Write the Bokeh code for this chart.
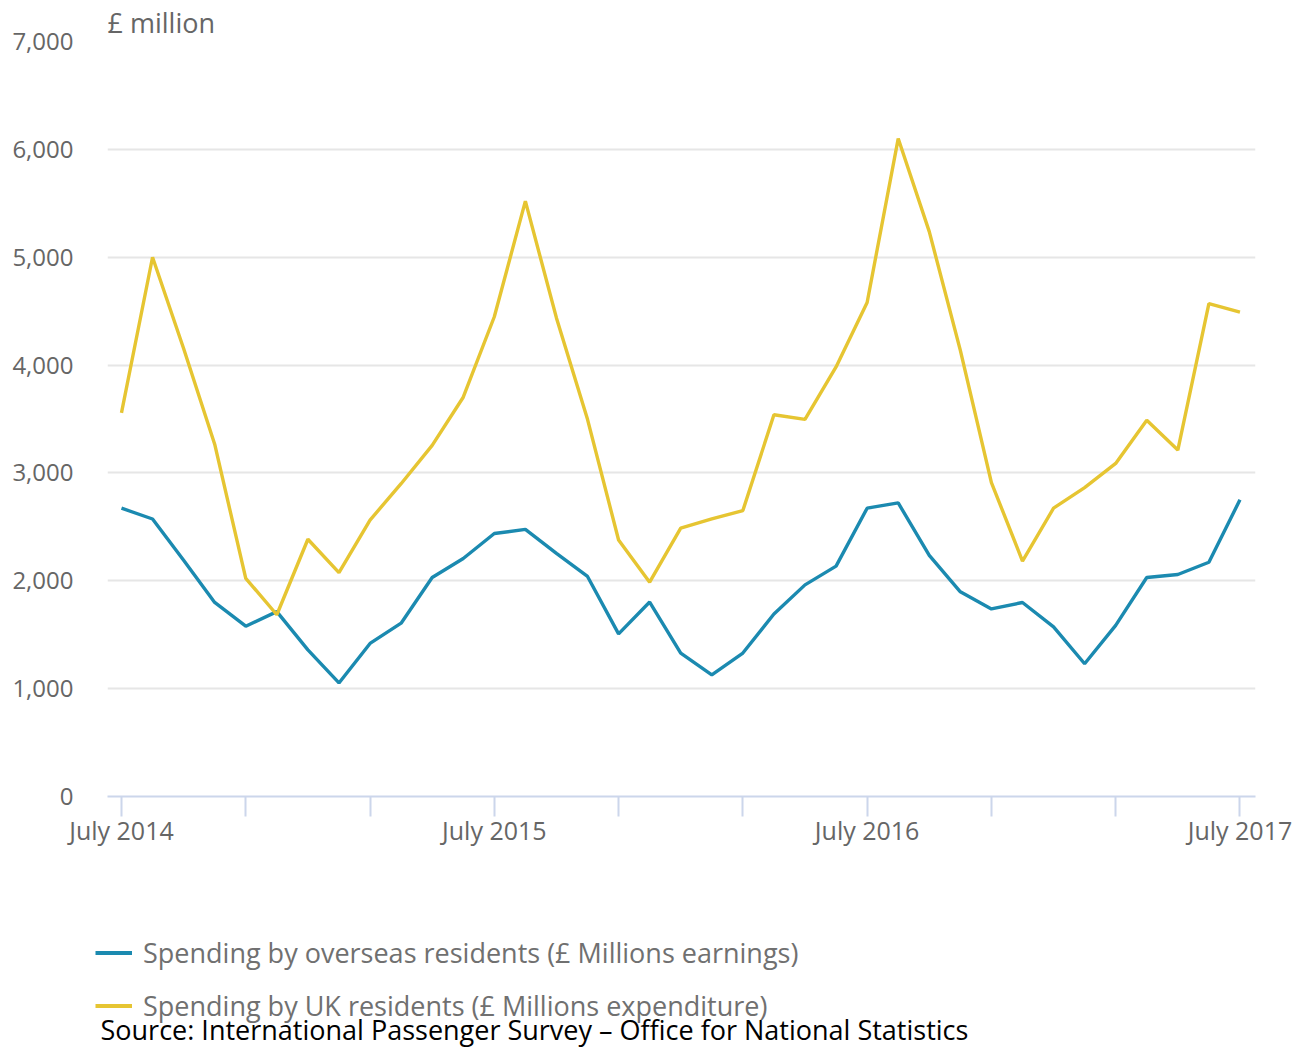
from bokeh.plotting import figure
from bokeh.layouts import column
from bokeh.models import (Range1d, FixedTicker, NumeralTickFormatter, Legend, LegendItem, Label)
from bokeh.embed import file_html
from bokeh.resources import INLINE

# Months July 2014 .. July 2017 (index 0..36)
months = list(range(37))
overseas = [2673, 2573, 2190, 1799, 1579, 1714, 1359, 1053, 1419, 1607,
            2030, 2207, 2438, 2477, 2254, 2040, 1508, 1803, 1330, 1128,
            1330, 1692, 1962, 2136, 2673, 2722, 2236, 1898, 1739, 1799,
            1572, 1231, 1586, 2030, 2058, 2172, 2751]
uk = [3557, 5000, 4153, 3266, 2023, 1685, 2385, 2076, 2563, 2900,
      3255, 3702, 4448, 5520, 4437, 3497, 2378, 1987, 2488, 2573,
      2651, 3539, 3496, 3983, 4580, 6100, 5237, 4136, 2911, 2183,
      2673, 2864, 3088, 3489, 3212, 4569, 4491]
x_ticks = [0, 4, 8, 12, 16, 20, 24, 28, 32, 36]
x_tick_labels = {0: "July 2014", 12: "July 2015", 24: "July 2016", 36: "July 2017"}
y_ticks = [0, 1000, 2000, 3000, 4000, 5000, 6000, 7000]
series_names = ["Spending by overseas residents (£ Millions earnings)",
                "Spending by UK residents (£ Millions expenditure)"]
unit_label = "£ million"
source_text = "Source: International Passenger Survey – Office for National Statistics"

BLUE = "#1b8ab0"
YELLOW = "#e6c532"
FONT = "Open Sans"
W = 1300
H1, H2 = 870, 178

x_start, x_end = -0.45, 36.5
p = figure(width=W, height=H1, output_backend="svg", toolbar_location=None,
           x_range=Range1d(x_start, x_end), y_range=Range1d(0, 7000),
           min_border_left=107, min_border_right=W - 1255, min_border_top=41,
           min_border_bottom=H1 - 796)
p.frame_align = False
p.outline_line_color = None
p.background_fill_color = "white"
p.border_fill_color = "white"

p.title.text = unit_label
p.title.align = "left"
p.title.text_font = FONT
p.title.text_font_size = "27px"
p.title.text_font_style = "normal"
p.title.text_color = "#666666"
p.title.standoff = 2
p.title.offset = 0

r1 = p.line(months, overseas, line_color=BLUE, line_width=3.4)
r2 = p.line(months, uk, line_color=YELLOW, line_width=3.4)

# x axis
xa = p.xaxis[0]
xa.ticker = FixedTicker(ticks=x_ticks)
xa.major_label_overrides = {t: x_tick_labels.get(t, "") for t in x_ticks}
xa.axis_line_color = "#ccd6eb"
xa.axis_line_width = 2
xa.major_tick_line_color = "#ccd6eb"
xa.major_tick_line_width = 2
xa.major_tick_out = 20
xa.major_tick_in = 0
xa.minor_tick_out = 0
xa.minor_tick_in = 0
xa.major_label_standoff = -4
xa.major_label_text_font = FONT
xa.major_label_text_font_size = "25px"
xa.major_label_text_color = "#666666"

# y axis
ya = p.yaxis[0]
ya.ticker = FixedTicker(ticks=y_ticks)
ya.formatter = NumeralTickFormatter(format="0,0")
ya.axis_line_color = None
ya.major_tick_line_color = None
ya.minor_tick_line_color = None
ya.major_tick_out = 0
ya.major_tick_in = 0
ya.major_label_standoff = 34
ya.major_label_text_font = FONT
ya.major_label_text_font_size = "24px"
ya.major_label_text_color = "#666666"

p.xgrid.grid_line_color = None
p.ygrid.grid_line_color = "#e6e6e6"
p.ygrid.grid_line_width = 2

# legend + source panel (pixel coordinates); series lines lie outside its view
p2 = figure(width=W, height=H2, output_backend="svg", toolbar_location=None,
            x_range=Range1d(0, W), y_range=Range1d(0, H2),
            x_axis_type=None, y_axis_type=None,
            min_border=0, min_border_left=0, min_border_right=0,
            min_border_top=0, min_border_bottom=0)
p2.frame_align = False
p2.outline_line_color = None
p2.xgrid.grid_line_color = None
p2.ygrid.grid_line_color = None
k1 = p2.line(months, overseas, line_color=BLUE, line_width=4)
k2 = p2.line(months, uk, line_color=YELLOW, line_width=4)

legend = Legend(items=[LegendItem(label=series_names[0], renderers=[k1]),
                       LegendItem(label=series_names[1], renderers=[k2])],
                location=(95, 24), orientation="vertical",
                padding=0, margin=0, spacing=16,
                glyph_width=37, glyph_height=37, label_height=37,
                label_standoff=11, border_line_color=None,
                background_fill_alpha=0,
                label_text_font=FONT, label_text_font_size="27px",
                label_text_color="#707070")
p2.add_layout(legend, "center")

p2.add_layout(Label(x=100, y=19, text=source_text,
                    text_font=FONT, text_font_size="27px",
                    text_color="#000000", text_baseline="middle",
                    text_align="left"))

open("out.html", "w").write(file_html(column(p, p2, spacing=0), INLINE))
